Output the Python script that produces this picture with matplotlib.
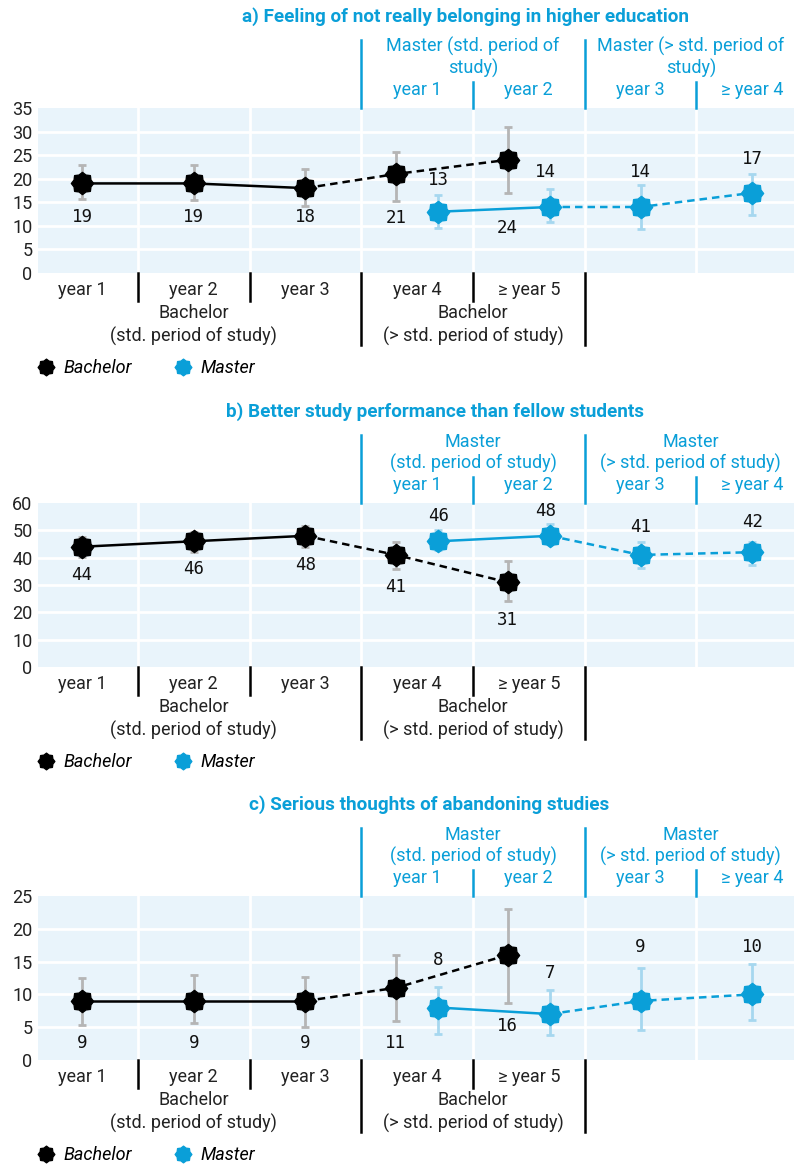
import matplotlib
matplotlib.use('Agg')
import matplotlib.pyplot as plt
import numpy as np
from matplotlib.path import Path
from matplotlib.lines import Line2D

plt.rcParams['font.family'] = ['Roboto', 'DejaVu Sans']

# data
bach_years = ['year 1', 'year 2', 'year 3', 'year 4', '\u2265 year 5']
mast_years = ['year 1', 'year 2', 'year 3', '\u2265 year 4']

titles = ['a) Feeling of not really belonging in higher education',
          'b) Better study performance than fellow students',
          'c) Serious thoughts of abandoning studies']

bach_vals = [[19, 19, 18, 21, 24],
             [44, 46, 48, 41, 31],
             [9, 9, 9, 11, 16]]
bach_lo = [[15.7, 15.5, 14.2, 15.3, 16.9],
           [40.4, 41.9, 43.9, 35.8, 24.0],
           [5.3, 5.7, 5.1, 5.9, 8.7]]
bach_hi = [[22.9, 23.0, 22.0, 25.6, 31.0],
           [47.5, 49.4, 51.6, 45.9, 38.9],
           [12.5, 12.9, 12.7, 16.0, 23.0]]

mast_vals = [[13, 14, 14, 17],
             [46, 48, 41, 42],
             [8, 7, 9, 10]]
mast_lo = [[9.6, 10.9, 9.4, 12.3],
           [42.9, 45.0, 36.3, 37.2],
           [4.0, 3.8, 4.6, 6.1]]
mast_hi = [[16.5, 17.8, 18.7, 21.0],
           [50.0, 52.2, 45.6, 45.9],
           [11.1, 10.7, 14.0, 14.7]]

ymax = [35, 60, 25]
ystep = [5, 10, 5]

# where the value labels sit (data units)
bach_lab_y = [[11.9, 11.9, 11.9, 11.7, 9.5],
              [33.7, 35.8, 37.4, 29.2, 17.2],
              [2.6, 2.6, 2.6, 2.6, 5.2]]
mast_lab_y = [[19.7, 21.4, 21.4, 24.2],
              [55.1, 57.2, 51.1, 53.0],
              [15.2, 13.2, 17.2, 17.2]]
mast_lab_dx = [[0, -0.04, 0, 0], [0, -0.04, 0, 0], [0, 0, 0, 0]]

mast_head_a = ['Master (std. period of\nstudy)', 'Master (> std. period of\nstudy)']
mast_head_bc = ['Master\n(std. period of study)', 'Master\n(> std. period of study)']

# layout / style
W, H = 794, 1164
BLUE = '#0a9fd8'
LBLUE = '#a6d7ef'
GREY = '#b5b5b5'
BG = '#e9f4fb'
TXT = '#222222'
FS = 13
panels_px = [(108, 273), (503, 667), (896, 1060)]
title_cx = [466, 435, 429]
col_w = 111.7
x0_px = 82
xlim = ((38 - x0_px) / col_w, (794 - x0_px) / col_w)
off = 0.19
bach_x = [0, 1, 2, 3 - off, 4 - off]
mast_x = [3 + off, 4 + off, 5, 6]
bach_std = 3   # standard period: bachelor years 1-3
mast_std = 2   # standard period: master years 1-2

# star-like marker
ang = np.arange(16) * np.pi / 8 + np.pi / 2
rad = np.tile([1.0, 0.82], 8)
verts = np.column_stack([rad * np.cos(ang), rad * np.sin(ang)])
verts = np.vstack([verts, verts[:1]])
star = Path(verts, [Path.MOVETO] + [Path.LINETO] * 15 + [Path.CLOSEPOLY])

fig = plt.figure(figsize=(W / 100, H / 100), dpi=100)


def draw_series(ax, xs, vals, lo, hi, n_std, col, ecol):
    xs = np.array(xs, float)
    vals = np.array(vals, float)
    yerr = [vals - np.array(lo), np.array(hi) - vals]
    ax.errorbar(xs, vals, yerr=yerr, fmt='none', ecolor=ecol, elinewidth=2,
                capsize=3.2, capthick=2, zorder=3)
    ax.plot(xs[:n_std], vals[:n_std], color=col, lw=1.8, zorder=4)
    ax.plot(xs[n_std - 1:], vals[n_std - 1:], color=col, lw=1.8, ls=(0, (3, 2)), zorder=4)
    ax.plot(xs, vals, ls='none', marker=star, ms=16, color=col, mec=col, zorder=5)


for i, (top, bot) in enumerate(panels_px):
    ah = bot - top
    ax = fig.add_axes([38 / W, 1 - bot / H, (794 - 38) / W, ah / H])
    ax.set_facecolor(BG)
    ax.set_xlim(*xlim)
    ax.set_ylim(0, ymax[i])
    ax.set_yticks(np.arange(0, ymax[i] + 1, ystep[i]))
    ax.tick_params(axis='y', length=0, labelsize=13, pad=4, colors=TXT)
    ax.set_xticks([])
    for s in ax.spines.values():
        s.set_visible(False)
    for yv in np.arange(ystep[i], ymax[i], ystep[i]):
        ax.axhline(yv, color='white', lw=2, zorder=1)
    for xb in np.arange(0.5, 6, 1):
        ax.axvline(xb, color='white', lw=2, zorder=1)

    draw_series(ax, bach_x, bach_vals[i], bach_lo[i], bach_hi[i], bach_std, 'black', GREY)
    draw_series(ax, mast_x, mast_vals[i], mast_lo[i], mast_hi[i], mast_std, BLUE, LBLUE)

    for x, v, ly in zip(bach_x, bach_vals[i], bach_lab_y[i]):
        ax.text(x, ly, str(v), ha='center', va='center', fontsize=12.5,
                family='DejaVu Sans Mono', color='#111111', zorder=6)
    for x, v, ly, dx in zip(mast_x, mast_vals[i], mast_lab_y[i], mast_lab_dx[i]):
        ax.text(x + dx, ly, str(v), ha='center', va='center', fontsize=12.5,
                family='DejaVu Sans Mono', color='#111111', zorder=6)

    tr = ax.get_xaxis_transform()
    # lines below the plot
    for xb in [0.5, 1.5, 3.5]:
        ax.plot([xb, xb], [0, -28 / ah], transform=tr, color='black', lw=1.8, clip_on=False)
    for xb in [2.5, 4.5]:
        ax.plot([xb, xb], [0, -72 / ah], transform=tr, color='black', lw=1.8, clip_on=False)
    # lines above the plot
    for xb in [3.5, 5.5]:
        ax.plot([xb, xb], [1, 1 + 26 / ah], transform=tr, color=BLUE, lw=1.8, clip_on=False)
    for xb in [2.5, 4.5]:
        ax.plot([xb, xb], [1, 1 + 68 / ah], transform=tr, color=BLUE, lw=1.8, clip_on=False)

    # category labels below
    for k, lab in enumerate(bach_years):
        ax.annotate(lab, (k, 0), xycoords=('data', 'axes fraction'), xytext=(0, -17),
                    textcoords='offset pixels', ha='center', va='center', fontsize=FS,
                    color=TXT)
    for gx, lab in zip([1, 3.5], ['Bachelor\n(std. period of study)',
                                  'Bachelor\n(> std. period of study)']):
        ax.annotate(lab, (gx, 0), xycoords=('data', 'axes fraction'),
                    xytext=(0, -31), textcoords='offset pixels', ha='center', va='top',
                    fontsize=FS, color=TXT, linespacing=1.3)

    # master labels above
    for k, lab in enumerate(mast_years):
        ax.annotate(lab, (3 + k, 1), xycoords=('data', 'axes fraction'), xytext=(0, 18),
                    textcoords='offset pixels', ha='center', va='center', fontsize=FS,
                    color=BLUE)
    heads = mast_head_a if i == 0 else mast_head_bc
    for hx, lab in zip([3.5, 5.45], heads):
        ax.annotate(lab, (hx, 1), xycoords=('data', 'axes fraction'), xytext=(0, 30),
                    textcoords='offset pixels', ha='center', va='bottom', fontsize=FS,
                    color=BLUE, linespacing=1.2)

    fig.text(title_cx[i] / W, 1 - (top - 91) / H, titles[i], ha='center', va='center',
             fontsize=13.6, fontweight='bold', color=BLUE)

    handles = [Line2D([], [], ls='none', marker=star, ms=12, color='black'),
               Line2D([], [], ls='none', marker=star, ms=12, color=BLUE)]
    ax.legend(handles, ['Bachelor', 'Master'], loc='center left',
              bbox_to_anchor=(-0.002, -95 / ah), ncol=2, frameon=False,
              prop={'style': 'italic', 'size': 13}, handlelength=1.0,
              handletextpad=0.5, columnspacing=2.3, borderpad=0, borderaxespad=0)

fig.savefig('out.png', dpi=100)
